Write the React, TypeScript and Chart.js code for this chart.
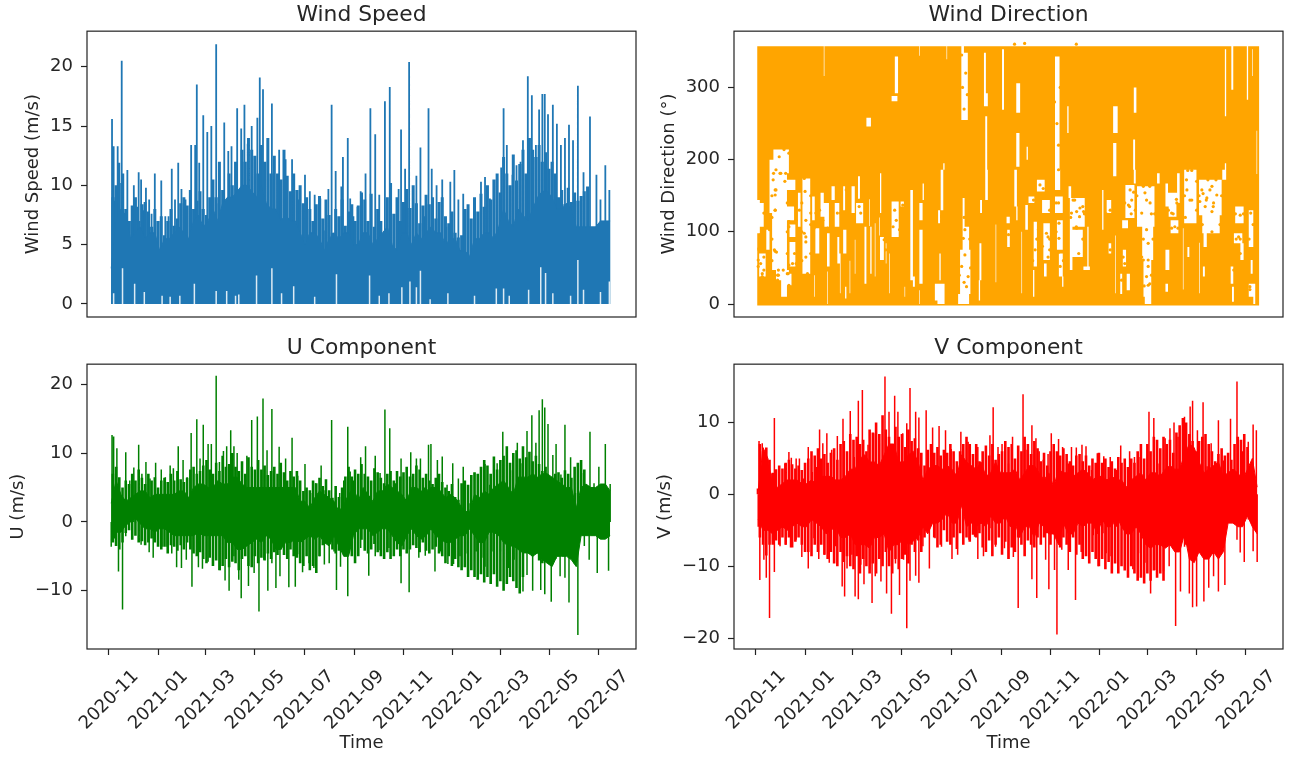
import React, { useEffect, useRef } from "react";
import { Chart, registerables } from "chart.js";

Chart.register(...registerables);

const FONT = "'DejaVu Sans', sans-serif";
const INK = "#262626";

const xTickDays = [0, 61, 120, 181, 242, 304, 365, 426, 485, 546, 607];
const xTickLabels = ["2020-11", "2021-01", "2021-03", "2021-05", "2021-07", "2021-09", "2021-11", "2022-01", "2022-03", "2022-05", "2022-07"];
const XMIN = -27;
const XMAX = 653;
const coreStart = 3;
const coreStep = 6;
const fringeStart = 5;
const fringeStep = 4;

// --- Wind speed
const speedCore = [3,7,8,7.5,5.5,6,6.5,5.5,6,6,4.5,5.5,5.5,6,6.5,6,5.5,7,7.5,6.5,7,8,7,8.5,9,9,9.5,10,10,9.5,9,10,8.5,8,8,7,7.5,7,7,6,5,6,6,5.5,4.5,5.5,6,5.5,6,6,5,5,6,6,5,5.5,6,6.5,5,4.5,6,6,5,6,5.5,6,6.5,6,6,5,5.5,5.5,4.5,4.5,4,5.5,5.5,6,6,5.5,6.5,8,7,6.5,8,7.5,7,8,9,9.5,9.5,9,8,8,8.5,8,6.5,6.5,6.5,6.5,6.5,7,7,7];
const speedFringe = [9,10,10.2,9,8,7,8.3,9,7,8.4,8.6,7.8,6.5,8,7,7.4,5.8,7,8,6.6,7.2,8.5,9,8.3,9.6,8,8.7,9.5,8,7.5,9,10.5,9,12,9.6,8,11,10,12,9.5,13,12,14,13,12.5,11,13.4,12,14,11,12.5,11,10.5,13,10.8,9.5,11,9.6,10,8.5,9,8,7,8.4,9.1,7.2,8.8,7.5,6,8,7.4,8.8,6.6,7.8,8.4,7,8.3,9.4,8.8,7,9.3,6.5,8,7,5.8,9,10.2,7.6,9,7,8.6,9.7,8.1,10,8.5,6.8,8.3,9.2,8.4,9,7.2,8.6,9,7.4,6.8,7.8,6,5.6,5.8,8,8.4,7.2,9,7.8,9.3,8.2,10,8.8,10.5,11,9.4,12.4,11,10,12.6,10.4,11.8,13,11,14,13,12.4,13.4,12,12.8,11.4,12,11,9,9.6,8.4,9.8,8.6,9.4,8.7,9.1,9.5,9.9];
const speedSpikeDays = [4,6,8,11,13,16,18,23,26,31,35,37,40,43,46,50,53,57,61,65,70,74,78,82,86,90,95,102,107,109,112,117,122,127,133,136,143,148,152,159,164,168,172,177,184,187,191,197,202,211,219,227,235,243,249,255,262,268,272,276,281,288,290,296,299,303,308,312,318,324,330,335,342,348,359,362,367,372,377,381,386,391,396,400,406,413,418,423,428,433,439,453,461,466,472,477,481,486,489,493,500,505,510,513,519,524,529,533,537,540,544,550,555,560,565,570,575,581,588,596,604,609,615,620];
const speedSpikeTops = [15.6,13.3,8.7,13.3,11.9,20.5,11,11.3,7,10,8.2,11.1,10.5,7.9,9.8,8.8,7.6,11,5.5,10.4,7.4,7.4,11.4,8.8,11.9,9.7,8.8,13.4,13.4,18.5,11.9,15.9,14.5,15,21.9,8.5,15.3,12.9,13.3,16.5,14.8,16.8,13.5,15,15.7,19.1,18.1,14,16.9,13,12.2,12.2,8.8,10.9,9.5,9.2,8.9,6.2,9.7,16.8,11.2,9.9,12.4,14,8.9,7.4,8.2,9.5,11,16.5,14.3,9.2,17.1,18.3,9.7,14.7,11.4,20.4,8.8,10.8,13.2,7.4,16.5,11.4,10,10.5,6.5,10.3,11.3,8.8,9.3,8.6,10.3,10.7,8.9,8.6,10.6,11.5,16.5,13.4,10.9,11.7,12,13.8,19.2,17.6,13.4,16.4,17.7,17.7,16,16.8,15.2,13.4,14,15.1,13.8,18.4,11.1,15.8,10.9,8.8,11.7,9.6];
const speedCalmDays = [6,17,32,44,66,76,88,106,133,146,157,161,183,202,214,229,255,282,323,335,347,363,373,381,386,398,420,453,480,489,496,520,535,541,550,572,581,588,609,620];
const speedCalmTops = [0.9,3,1.7,1,0.7,0.6,0.7,1.7,1.1,1.1,0.7,0.8,2.4,3,0.9,1.5,0.6,2.5,2.4,0.7,0.9,1.4,1.9,1.4,2.8,0.4,0.9,0.7,1.3,1.3,0.7,1.2,3.1,2.6,0.9,0.7,3.7,1.2,1,1.9];

// --- U component
const uCoreHigh = [2.7,6,4,3,3.5,4,4.5,4.5,3.5,4,4,4,4,4,4.5,4.5,3.5,5,5.5,5.5,5,5,6,5.5,5.5,6.5,6.5,5.5,5,5,5,5,5,5,5,5,5,5,5,3,3,2,3.5,4.5,4,3.5,3,1.5,2.5,4,5,3,5,4,3,4.5,4.5,5.5,5,4.5,4,3,5,5,4.5,4.5,5,5,4.5,3.5,4,3.5,2.5,1.5,1.5,4,3.5,4.5,4,5,5.5,6,5,4,6.5,6.5,6.5,7,6.5,7,7,6.5,6,5.5,5,5,2,5,5.5,5,5,5.5,5.5,4.5];
const uCoreLow = [-2.5,-1.5,-1.5,-0.5,0,0.5,-0.3,-1,-1,-1.5,-1,-1,-1.5,-2,-2,-2,-2,-2,-1.5,-2,-2,-2,-2,-2,-3,-3,-4,-4,-3.5,-3,-2.5,-3,-2,-2.5,-4,-4,-3,-3,-2.5,-3,-2.5,-2,-2.5,-2,-3,-3.5,-2,-3.5,-5,-5,-2,-1,-1,-1,-2,-1.5,-1,-1,-2,-3,-3.5,-2,-1,-2,-2.5,-2,-1,-2,-2.5,-3,-3,-2.5,-2,-2,-1,-2,-3,-3,-1.5,-1.5,-2,-3,-3.5,-3.5,-4,-4.5,-4.5,-5,-4.5,-5.5,-6,-6.5,-5,-5,-5,-5.5,-6.5,-2,-2,-2,-2,-2.5,-2.5,-2];
const uFringeUp = [7,8,6.5,5,6,5.5,7,6,7.6,6.4,5.5,7,6,6.5,5,6,6.4,5.8,7,6,7.4,6.2,5.8,6.4,7.6,8,7,7.4,8.2,9,7.6,7,8.6,7.4,9.6,8,8.4,10,8,7.4,8.8,7,9.4,8,7.6,9,7.6,8.2,6.8,7.4,8,7,8.6,7.2,6,7.4,6.6,7.4,6,4.5,5,4.6,6,5.6,6.4,5.2,6.2,4.6,3.5,5.2,3.6,5,6.6,8,6.6,7.6,7,8.4,7,6.6,6,7.8,7.2,6.4,5.6,7,7.4,6,7.4,6.6,7.2,8,6.6,7,8.2,7.6,6.4,7,6,5.5,6.4,7,5.8,5,4.5,5.5,3.6,3.2,5.6,6,5.4,6.8,7.2,7,8,9,8.2,7,9.5,7.6,9,9.6,11,8.6,10,10.4,9.2,11,9.4,10.2,8.8,9.6,8.4,7.4,8,6,4.2,7,7.2,6.4,7.5,7,6.4,8,8.6,9,7.6];
const uFringeDown = [-3,-3.5,-4,-3,-1.6,-1.2,-2.6,-2,-3,-2.8,-3.4,-3,-2.4,-3,-3.6,-4,-3.6,-4.6,-3.4,-3.6,-4.2,-3.4,-4,-3,-4,-4.6,-5,-4.4,-5.4,-6,-5.2,-6.4,-5.6,-7,-6.4,-5.4,-6.6,-5.8,-6,-7,-5.4,-5,-6.4,-6.6,-5,-6,-5.2,-5.6,-4.6,-5.4,-4.4,-4.8,-4,-4.8,-5.4,-4,-5,-5.2,-6,-6.4,-5,-7,-6.4,-7.4,-5,-3.4,-3,-3.2,-4,-4.6,-4.2,-3,-3.4,-4.4,-5,-6,-5,-2.6,-4.2,-4.6,-4,-3.2,-4.4,-5,-5.4,-4.4,-5.4,-5,-4,-5,-4,-4.6,-4,-3.4,-3.8,-4.4,-3,-4.2,-4.6,-4,-3.6,-4.6,-5,-6,-5,-6.4,-5.4,-6.6,-7,-6.6,-8,-7,-8,-8.4,-7.6,-8.8,-8,-9,-7.6,-9.4,-8.6,-10,-9,-8,-8.6,-9.6,-10.4,-8,-4,-4.4,-5,-4.6,-5.6,-6,-4.6,-5,-4,-5.4,-3.6,-4.2];
const uUpDays = [4,6,10,13,21,26,31,37,41,46,51,58,65,70,76,80,86,92,97,102,109,113,117,123,127,133,137,142,146,151,155,159,165,171,177,184,191,196,202,211,219,227,234,243,250,256,263,268,276,281,286,291,296,299,303,308,312,318,324,330,336,342,348,355,362,368,374,381,386,391,396,399,407,413,419,426,433,439,446,453,461,466,472,477,481,488,493,500,506,512,518,524,529,533,537,540,544,550,554,560,565,572,578,588,596,601,607,615,621];
const uUpTops = [12.6,12.4,10.7,4.6,10.1,6,7.9,11.2,7,8.7,6.3,8.6,7.6,6.5,8.2,7.8,11,9,6.5,12.9,14.9,9.2,14.1,11.3,11.3,21.2,8.7,10.3,11,13.3,11,10,7.5,9.6,14.8,15.3,17.9,10.4,16.4,10.9,9.2,12.2,6.7,8.4,4.2,5.6,8.2,4.6,14.8,4.2,4.2,6,13.8,7.3,6,3.2,9.4,11,2.5,9.6,7.1,16.3,13.6,5.6,9.2,3.2,10.1,9.2,9.2,5,11.2,11.3,9,9.5,5.4,8.5,6.3,8,2.7,7.1,5.4,8.4,5.4,7.5,8.5,13.1,10.4,7.5,11.5,8.5,13.2,15.5,11.5,16.2,17.8,16.6,14.2,9.7,11.3,6.9,14.1,9.4,4.2,7.1,13.1,5.6,8,11.3,5.5];
const uDownDays = [3,7,12,17,21,29,33,40,50,55,61,66,72,78,84,90,96,103,111,116,123,129,138,144,149,155,161,164,173,180,186,192,197,202,207,212,223,231,236,240,248,254,261,267,273,279,282,287,296,299,305,312,322,330,336,347,362,372,384,392,404,411,420,427,435,444,455,462,466,476,485,495,502,513,518,525,535,540,548,559,565,570,576,581,589,595,605,619];
const uDownTops = [-3.6,-2.4,-7.2,-12.7,-2.1,-1.4,-0.2,-3.3,-4.4,-5.2,-2.9,-3.6,-3.6,-4.6,-6.6,-6.7,-5.5,-9.4,-6.6,-6.8,-5.8,-5.3,-7,-8.5,-10,-5,-8.4,-11.1,-9.3,-7.4,-13,-5.5,-10,-6,-9.6,-7.9,-9.5,-9.4,-4.7,-7.3,-6,-6.7,-5,-6.2,-6,-4.3,-9.9,-6.5,-10.8,-3.3,-5.7,-3.8,-7.8,-5,-4.1,-3.8,-8.9,-10.2,-5.2,-4.9,-7.2,-4.3,-6.1,-6.1,-5,-4.6,-4.3,-5.2,-6.5,-4.3,-4.3,-6.7,-5.5,-10.1,-7.7,-10,-9.9,-10.5,-11.6,-7.9,-8.1,-11.7,-6,-16.4,-3.5,-5.5,-7.4,-7.1];

// --- V component
const vCoreHigh = [0.5,6.5,5,1,1,1.5,2,2,2,1.5,1.5,2,1.5,2.5,2.5,2.5,2,2,2.5,3.5,3.5,5,5.5,4.5,4.5,4,5.5,7,7,4.5,4.5,5.5,6,4.5,2,3.5,4,4,3.5,4,3.5,2.5,5.5,4.5,4,3.5,4.5,2.5,3,4.5,3,3,3,3.5,2,3,4,4,3,2,3,1,3.5,3,3,2.5,3,3.5,3,2,2.5,2.5,2,2.5,2,2,1,2,2.5,3,2,3,3,2.5,3.5,4,3.5,3.5,5.5,7,6.5,4.5,3,3.5,4,4.5,2.5,3,3.5,3,2,3.5,5,1];
const vCoreLow = [-3.5,-5,-5,-5.5,-5,-4.5,-5,-4.5,-4,-4.5,-4.5,-3.5,-4,-4.5,-5.5,-5,-4.5,-6,-6,-5.5,-7,-7,-7,-7.5,-6,-6,-5.5,-8,-7,-7,-6,-7,-6.5,-6,-4.5,-5.5,-4,-4,-3.5,-2.5,-4,-4,-1.5,-4.5,-4,-4.5,-4,-4.5,-3,-4,-4,-3,-4.5,-4,-6,-4.5,-4.5,-6,-4,-4.5,-5.5,-5.5,-7,-4,-5.5,-5.5,-4,-4.5,-4,-4,-5.5,-3.5,-4.5,-4.5,-3,-4.5,-5.5,-5.5,-4.5,-5.5,-7,-7.5,-7,-7,-7.5,-7,-8,-8,-5.5,-9,-9.5,-8,-9,-9,-8,-9,-8,-4,-4,-4.5,-4.5,-3,-4.5,-5.5];
const vFringeUp = [7,6,6.5,4.8,3,3.5,4,3.6,4.4,4.8,4.2,3.6,4,3.4,4.4,5,6,5.4,6.4,5,5.6,4.4,5.8,6.4,4.8,7,7.4,6,8.4,7.6,8,7,7.6,6,9,8.6,10,8.4,11,9,8,7,9.4,8,8.4,6.6,9,7.4,7.8,6.4,5.8,4,6.2,7,5.8,6.6,5.4,6.2,5.8,7,6,4.6,6,7,8,7,5.6,7,4.6,6,6.8,5.4,7,4.8,5.6,6,7.4,6.6,7,5,6.8,6,8,7,5.6,7.4,6.4,4.6,5.8,4,6,7,6,5.4,6.4,5.6,4.6,4,5.4,5.6,4.6,5.4,4,5,4.4,5.8,4.4,5,3.8,4.6,3.6,5.2,4.4,5,3.8,5,4.4,6,7,5,7,6,8,7.6,6.4,8,7,7.6,5.8,8.6,9.6,10.6,10,8.4,7.4,6,7.4,8,8.4,7,6,4.6,5.6,6.4,5.4,5.8,4.8,7,8,7.6,8.4,6.6];
const vFringeDown = [-6,-7,-8.5,-7,-7,-6.4,-7,-6,-7,-6,-7.4,-6.6,-6,-7,-8,-8,-8.6,-7,-8,-7,-8.4,-9,-8,-9.6,-10,-8,-9.4,-8.6,-10,-10.4,-8.6,-11,-9,-10,-11,-9.6,-11,-9,-10,-8,-10,-11,-9,-10.4,-9,-8.4,-9.6,-7,-8,-6.4,-8,-6,-5,-3,-6,-7.4,-7,-5,-6.6,-7,-6,-7.6,-5.4,-7,-6,-6.6,-5.6,-6,-5.4,-7.4,-8,-6.4,-8.6,-7,-6,-8.4,-6.6,-9,-7.4,-8,-6,-7,-8.6,-6.4,-7,-7.4,-6,-7,-6,-5.4,-7,-5,-6,-7.4,-6,-7,-8,-6,-8.4,-7,-9,-8.6,-9.6,-8,-9,-10,-9,-10.4,-9.4,-11,-9.6,-11,-10,-10.6,-11.6,-10,-11,-12,-11.6,-12.4,-11,-12,-10.6,-11.6,-11,-12,-6,-7,-5.6,-6.6,-7.6,-6,-7,-6,-8,-8.6];
const vUpDays = [2,4,8,13,19,23,29,36,41,44,50,54,59,65,70,75,79,83,88,94,101,108,113,117,122,127,132,139,146,153,160,165,172,176,182,187,191,198,202,211,219,227,235,242,248,254,263,269,275,283,290,294,300,305,313,318,325,331,336,342,347,351,356,362,366,371,375,380,387,391,397,404,409,416,423,431,439,447,452,457,463,469,476,481,487,493,498,507,513,518,523,531,538,541,547,554,559,564,573,579,588,596,603,610,616,620];
const vUpTops = [0.8,7.4,7.1,6.2,2.9,10.6,2.5,4.3,5.9,5.1,5,5,2.2,6.6,3.1,3.8,9,7.1,8.5,6.2,8.1,10.5,4.3,11.6,5.2,13,14.5,6.9,8.5,7.1,16.4,11.5,13.7,11.5,8.5,9.9,14.8,11.5,10.7,11.7,9.3,9.5,8.9,6.3,2.9,8.7,7.3,5.4,6.6,1.5,8.2,12.1,6.6,7,4.3,8,4.6,13.9,6.2,9.6,7.8,6,4.8,5.6,8.5,0.6,7.7,6.6,4.3,6.6,6.5,6.9,6.7,3.4,5.7,5.3,5.2,3.4,6.8,1,6,5.2,5.2,4.7,11.5,10.6,4.3,7.8,9.2,10,8,10.8,12.2,13,8.9,12.8,3.9,7.1,10.3,4.7,10.5,15.7,6,7.3,9.7,8.9];
const vDownDays = [3,5,10,13,17,23,30,37,43,50,57,65,72,78,85,91,99,107,110,113,119,123,127,130,134,141,144,148,155,162,168,173,178,183,187,191,198,202,207,215,222,230,236,243,250,256,264,271,275,277,282,290,297,308,313,319,325,333,342,348,353,359,363,370,373,379,387,396,403,409,418,424,430,434,440,447,457,461,467,474,482,489,496,505,512,520,526,531,537,541,546,555,561,567,573,581,589,596,600,605,610,616,621];
const vDownTops = [-4.5,-11.9,-9.1,-11.6,-17.2,-10.8,-7.2,-7,-7.4,-6.3,-8.7,-10.3,-6.1,-9,-8.4,-9.5,-7.2,-12.8,-14.2,-10.3,-8.4,-14.2,-14.6,-9.8,-12.5,-10.3,-15.1,-11.4,-12.1,-13.8,-16.6,-9.6,-14,-9.1,-18.6,-12,-11.3,-12.3,-7.2,-10.3,-6.1,-7.3,-2.6,-9,-8.4,-0.3,-6.3,-5.9,-9,-5,-8.6,-4.7,-7.3,-7.5,-9,-8.7,-15.8,-7.7,-11.8,-14.4,-5.2,-9.1,-13.2,-10.5,-19.5,-7.7,-10.5,-14.7,-8,-6.3,-5.7,-10,-5.4,-8.2,-8.6,-4.5,-8,-9.8,-10.4,-8.2,-9.5,-13.8,-10.5,-10.7,-10,-18.3,-13.5,-7.3,-13.8,-15.7,-15.6,-14.9,-13,-11.4,-13.5,-12.6,-3.5,-6.3,-8.1,-9.4,-3.5,-7.9,-9.4];

// --- Wind direction: [from day, to day, low °, high °] stretches the point cloud leaves empty
const dirGaps: [number, number, number, number][] = [
  [2,5,98,144],[4,12.4,38,70],[5,10.3,107,140],[12.4,17.4,75,103],[20,39,47,181],[25,41,33,47],[31,39,10,33],[39,47.6,116,135],[41,49,93,110],[41,49,52,86],[38,44.7,26,42],[39,49,158,172],[51.7,55.8,107,154],[57,68,42,174],[69.5,73.6,116,149],[73.6,78.6,70,105],[79.4,84.8,121,154],[84.8,91,107,140],[93,98.4,144,163],[87.7,91.8,52,98],[97,103.4,107,140],[100.5,103.4,56,93],[107.5,110.8,130,163],[107.5,112.5,70,103],[110,112.5,7.5,24],[117.9,123.2,126,163],[124,133,112,140],[126,129,144,177],[122,124,42,89],[134.4,137.3,28,107],[141.4,143.5,42,107],[146.8,148.9,38,112],[153.8,155.9,126,181],[153.8,159.2,61,93],[160.5,162.5,56,84],[167.5,177.8,93,142],[178.7,184,135,142],[191,195.2,33,158],[194.4,197.7,24,38],[184,185.3,10,24],[202.6,206.8,116,140],[202.6,206.8,28,103],[206,208.4,144,167],
  [229,232.8,130,186],[227,229.5,33,70],[221.6,227,5,28],[225.8,228.7,112,130],[256,265,75,107],[252.7,266.3,14,75],[250.6,265,0,14],[256,259.3,107,147],[283.7,287.8,144,186],[276.6,279.5,33,84],[277.5,280.8,126,144],[319.7,323.8,135,186],[311.4,314.7,79,103],[310.6,314.7,112,121],[322,325,116,135],[337.4,345.7,140,149],[333.3,337.4,103,137],[343.6,348.6,52,114],[342.8,345.7,10,47],[354,364.3,126,144],[356,364.3,61,112],[357,361,38,56],[370.5,377.5,158,186],[370.5,381,126,149],[372.6,381,75,116],[374.7,381,38,70],[378.8,381.7,24,38],[389,407.7,107,147],[387,391,147,163],[389,393,47,107],[393,405.7,65,103],[405.7,414,47,52],[410,412.7,52,107],[347.8,358,156,172],
  [428.4,431.3,103,158],[434.6,440.8,126,144],[436.7,440.8,70,84],[457.4,469.8,119,165],[453.2,461.5,105,116],[454.5,459.4,52,75],[451,454.5,14,42],[459.4,463.6,19,42],[467.7,471,167,186],[471.8,494.6,107,163],[478,492.5,61,107],[480,490.4,10,61],[481.3,490.4,0,10],[496.6,500.8,167,181],[507,511,135,167],[511,521.5,121,154],[513.2,523.5,98,116],[507,512.4,47,75],[507,511,17,28],[521.5,525.6,140,181],[530.5,546.3,112,186],[533.9,537.2,65,79],[548.3,577.3,123,172],[552.5,575.2,98,123],[554.5,558.7,79,98],[553.7,556.6,38,52],[577.3,582.7,172,186],[587.6,591.8,28,52],[589.7,592.6,3,24],[593.8,604.2,112,135],[591.8,603.3,84,98],[600,604.2,61,84],[610.4,616.6,79,130],[610.4,616.6,10,28],[612.4,615.8,42,61],
  [83.5,85,316,358],[107,108,209,237],[136.5,143,246,258],[167.5,176,281,288],[172,177,292,343],[202,203.5,344,358],[202,203.5,0,19],[231.5,234,186,195],[254,263,255,348],[254,258.5,334,358],[271,272,283,330],[236,237.5,339,358],[236,237,0,14],[282,285.5,292,348],[282,288,274,292],[284,287,186,260],[305,308,269,353],[322.6,327.5,265,306],[322.6,327,190,237],[335,337.5,200,218],[370,377,186,343],[385.5,388,237,274],[442.5,446.7,177,223],[442.5,448.7,237,274],[467.3,470.2,186,228],[468,472,265,300],[581,583,260,353],[581,583,172,195],[589,591.5,297,358],[608,610,283,358],[614,616,316,353],[21.5,41,181,214],[17,21.5,126,200],[184,185,0,28],[225,234,0,28],[615.4,618.7,0,28],[276,278,5,33],
  [72,73,10,40],[81,82.2,20,60],[88,89,0,45],[97,98,8,50],[104,105,15,70],[110,111,30,62],[116,117.2,15,60],[130,131,25,80],[140,141,108,145],[150,151,12,90],[153,154,95,120],[165,166,15,70],[171,172,20,85],[178,179,40,90],[188,189,12,60],[199,200,40,120],[210,211,30,110],[214,215,15,90],[219,220,60,140],[238,239,20,110],[243,244,60,120],[246,247,15,95],[250,251,110,200],[268,269,20,80],[271,272,90,200],[290,291,20,130],[297,298,30,110],[302,303,60,160],[307,308,20,90],[316,317,110,180],[329,330,15,100],[331,332,160,240],[351,352,175,230],[368,369,15,90],[384,385,60,150],[395,396,150,210],[416,417,20,100],[420,421,60,140],[424,425,110,190],[432,433,165,250],[445,446,15,95],[450,451,120,175],[472,473,170,240],[475,476,10,60],[500,501,30,110],[503,504,115,160],[526,527,40,120],[529,530,20,105],[546,547,40,110],[549,550,15,85],[562,563,20,75],[568,569,50,95],[578,579,60,120],[584,585,20,100],[586,587,130,200],[596,597,145,190],[606,607,30,110],[618,619,60,150],[620,621,180,240],
];
const dirDotDays = [4,6,8,10,13,6,10,24,25,21.5,25,29,35,41,50,56,36,41,42,40.5,31,45.5,50,52,45.5,48,54,52.5,60,63,62,23,25.6,28,34,40,41,74.4,83,87,101,93,128,130,347.4,351.5,360,364,395,401,397,405,434,463,484,490,480,486,488,517,533.5,537.7,558,566.6,554,562.5,320.5,333,397,24,24,24,41,41,42,43,43,52,61,62,62,62,50,41,39,27,27,34,24,6,4,3,3,10,8,17,68,72,79,83,89,93,103,105,112,116,124,132,128,172,170,163,159,161,174,182,178,259,257,259,263,261,255,348,350,346,362,362,375,375,375.5,375.5,375.5,377,393,397.4,391,401.5,406,397.4,401.5,352,356,344,313,317,463.6,465.6,461.5,482,482,488.4,478,484,486,478,486,484,486,455,457,453,515,519,521.5,534,540,552.5,558.7,565,567,571,556.6,565,550,600,598,600,592,612,613,439,439,430.5,256,260,258,262,255,20,20,20,20,39,39,39,22,30,37,28,34,57,57,57,68,68,68,60,64,470,472,480,488,494,492,480,490,481,532,535,540,546,546,531,549,560,570,577,575,553,565,372,372,381,381,375,375,370,377,373,355,364,364,258,258,252,266,265,343,348,390,407,400,405,457,468,465,611,616,612,594,604,600,595,511,521,515,523];
const dirDotDeg = [77,56,42,126,107,28,65,130,158,172,186,204,214,209,209,200,170,114,89,107,181,140,116,98,56,70,130,65,98,177,116,75,72,40,5,42,26,126,102,102,126,130,144,126,135,112,98,75,144,121,107,135,125,135,144,125,61,52,28,125,172,144,144,135,153,158,360,361,360,158,151,130,114,107,89,154,140,158,156,93,86,65,56,54,42,40,33,7,73,96,75,61,52,47,38,103,126,105,130,116,105,126,149,126,158,140,107,172,135,130,107,103,89,75,116,137,103,68,91,103,38,24,52,126,103,75,93,65,154,140,112,91,72,52,144,128,126,133,128,105,61,165,160,144,96,107,158,144,137,172,154,140,126,103,84,65,61,38,26,65,56,33,126,107,140,158,144,158,147,163,140,151,135,128,142,123,93,70,47,24,126,75,130,93,300,320,270,290,345,60,90,120,150,70,100,140,181,181,181,47,47,60,100,140,70,110,150,174,42,130,150,163,163,125,90,90,40,25,120,185,185,130,170,150,150,172,172,150,110,110,100,100,140,60,120,186,220,280,300,250,80,90,130,120,30,40,50,90,60,90,120,125,70,90,140,155,125,90,110,20,125,125,90,90,130,145,105,105];

type Pt = { x: number; y: number | null };

const envelope = (vals: number[]): Pt[] => vals.map((y, i) => ({ x: coreStart + coreStep * i, y }));

const spikes = (days: number[], tops: number[], base = 0): Pt[] =>
  days.flatMap((d, i) => [{ x: d, y: base }, { x: d, y: tops[i] }, { x: d, y: null }]);

const fringe = (tops: number[]): Pt[] =>
  tops.flatMap((y, i) => {
    const d = fringeStart + fringeStep * i;
    return [{ x: d, y: 0 }, { x: d, y }, { x: d, y: null }];
  });

// Vertical strokes for the dense cloud: each column runs from bottom to top, skipping the read gaps.
const dirColumns = (): Pt[] => {
  const out: Pt[] = [];
  for (let d = 2.6; d <= 623; d += 0.8) {
    const open = dirGaps.filter((g) => d >= g[0] && d <= g[1]).map((g) => [g[2], g[3]]);
    open.sort((a, b) => a[0] - b[0]);
    let cur = -2;
    for (const [lo, hi] of open) {
      if (lo > cur) out.push({ x: d, y: cur }, { x: d, y: lo }, { x: d, y: null });
      cur = Math.max(cur, hi);
    }
    if (cur < 357) out.push({ x: d, y: cur }, { x: d, y: 357 }, { x: d, y: null });
  }
  return out;
};

type Cfg = {
  title: string; yLabel: string; yMin: number; yMax: number; yTicks: number[]; yTitlePad: number;
  left: number; top: number; width: number; height: number; plotLeft: number; padRight: number;
  bottomHeight: number; showX: boolean; datasets: any[];
};

const line = (data: Pt[], color: string, width: number, extra: any = {}) => ({
  data, borderColor: color, borderWidth: width, pointRadius: 0, tension: 0, spanGaps: false,
  borderCapStyle: "butt", fill: false, ...extra,
});

const BLUE = "#1f77b4";
const GREEN = "#008000";
const RED = "#ff0000";
const ORANGE = "#ffa500";

const LEFT_X = 0;
const RIGHT_X = 648;
const ROW1 = 0;
const ROW2 = 333;

const plots: Cfg[] = [
  {
    title: "Wind Speed", yLabel: "Wind Speed (m/s)", yMin: -1.1, yMax: 23, yTicks: [0, 5, 10, 15, 20], yTitlePad: 23,
    left: LEFT_X, top: ROW1, width: 648, height: 330, plotLeft: 87, padRight: 12, bottomHeight: 13, showX: false,
    datasets: [
      line(envelope(speedCore), BLUE, 1, { fill: { value: 0 }, backgroundColor: BLUE }),
      line(fringe(speedFringe), BLUE, 3),
      line(spikes(speedSpikeDays, speedSpikeTops), BLUE, 1.8),
      line(spikes(speedCalmDays, speedCalmTops, -0.05), "rgba(255,255,255,0.85)", 1.5, { order: -1 }),
    ],
  },
  {
    title: "Wind Direction", yLabel: "Wind Direction (°)", yMin: -18, yMax: 378, yTicks: [0, 100, 200, 300], yTitlePad: 11,
    left: RIGHT_X, top: ROW1, width: 648, height: 330, plotLeft: 86, padRight: 13, bottomHeight: 13, showX: false,
    datasets: [
      line(dirColumns(), ORANGE, 1.3),
      { data: dirDotDays.map((x, i) => ({ x, y: dirDotDeg[i] })), showLine: false, pointRadius: 1.6, pointBorderWidth: 0, pointBackgroundColor: ORANGE },
    ],
  },
  {
    title: "U Component", yLabel: "U (m/s)", yMin: -18.45, yMax: 22.9, yTicks: [-10, 0, 10, 20], yTitlePad: 8,
    left: LEFT_X, top: ROW2, width: 648, height: 426, plotLeft: 87, padRight: 12, bottomHeight: 110, showX: true,
    datasets: [
      line(envelope(uCoreHigh), GREEN, 1, { fill: "+1", backgroundColor: GREEN }),
      line(envelope(uCoreLow), GREEN, 1),
      line(fringe(uFringeUp), GREEN, 2.6),
      line(fringe(uFringeDown), GREEN, 2.6),
      line(spikes(uUpDays, uUpTops), GREEN, 1.5),
      line(spikes(uDownDays, uDownTops), GREEN, 1.5),
    ],
  },
  {
    title: "V Component", yLabel: "V (m/s)", yMin: -21.5, yMax: 18.1, yTicks: [-20, -10, 0, 10], yTitlePad: 6.5,
    left: RIGHT_X, top: ROW2, width: 648, height: 426, plotLeft: 86, padRight: 13, bottomHeight: 110, showX: true,
    datasets: [
      line(envelope(vCoreHigh), RED, 1, { fill: "+1", backgroundColor: RED }),
      line(envelope(vCoreLow), RED, 1),
      line(fringe(vFringeUp), RED, 2.6),
      line(fringe(vFringeDown), RED, 2.6),
      line(spikes(vUpDays, vUpTops), RED, 1.5),
      line(spikes(vDownDays, vDownTops), RED, 1.5),
    ],
  },
];

const frame = {
  id: "frame",
  afterDatasetsDraw(chart: any) {
    const { ctx, chartArea: a } = chart;
    ctx.save();
    ctx.strokeStyle = "#222222";
    ctx.lineWidth = 1.2;
    ctx.strokeRect(a.left, a.top, a.right - a.left, a.bottom - a.top);
    ctx.restore();
  },
};

function SubPlot({ cfg }: { cfg: Cfg }) {
  const ref = useRef<HTMLCanvasElement>(null);
  useEffect(() => {
    const chart = new Chart(ref.current as HTMLCanvasElement, {
      type: "line",
      data: { datasets: cfg.datasets },
      plugins: [frame],
      options: {
        animation: false,
        responsive: false,
        devicePixelRatio: 1,
        layout: { padding: { left: 0, right: cfg.padRight, top: 0, bottom: 0 } },
        plugins: {
          legend: { display: false },
          tooltip: { enabled: false },
          title: {
            display: true, text: cfg.title, color: INK, fullSize: false,
            font: { family: FONT, size: 21.8, weight: "normal", lineHeight: 1.2 },
            padding: { top: 2, bottom: 3 },
          },
        },
        scales: {
          x: {
            type: "linear", min: XMIN, max: XMAX,
            afterBuildTicks: (s: any) => { s.ticks = xTickDays.map((value) => ({ value })); },
            afterFit: (s: any) => { s.height = cfg.bottomHeight; s.paddingLeft = 0; s.paddingRight = 0; },
            border: { display: false },
            grid: { display: cfg.showX, drawOnChartArea: false, drawTicks: cfg.showX, tickLength: 6, tickColor: "#222222", tickWidth: 1.2 },
            ticks: {
              display: cfg.showX, autoSkip: false, minRotation: 45, maxRotation: 45, labelOffset: 27, padding: 11,
              color: INK, font: { family: FONT, size: 18 },
              callback: (v: any) => xTickLabels[xTickDays.indexOf(v)] ?? "",
            },
            title: {
              display: cfg.showX, text: "Time", color: INK,
              font: { family: FONT, size: 18, lineHeight: 1.2 }, padding: { top: 0, bottom: 5 },
            },
          },
          y: {
            type: "linear", min: cfg.yMin, max: cfg.yMax,
            afterBuildTicks: (s: any) => { s.ticks = cfg.yTicks.map((value) => ({ value })); },
            afterFit: (s: any) => { s.width = cfg.plotLeft; s.paddingTop = 0; s.paddingBottom = 0; },
            border: { display: false },
            grid: { display: true, drawOnChartArea: false, drawTicks: true, tickLength: 6, tickColor: "#222222", tickWidth: 1.2 },
            ticks: {
              padding: 8, color: INK, font: { family: FONT, size: 18 },
              callback: (v: any) => String(v).replace("-", "\u2212"),
            },
            title: {
              display: true, text: cfg.yLabel, color: INK,
              font: { family: FONT, size: 18, lineHeight: 1.2 }, padding: { top: cfg.yTitlePad, bottom: 0 },
            },
          },
        },
      } as any,
    });
    return () => chart.destroy();
  }, [cfg]);
  return (
    <canvas
      ref={ref}
      width={cfg.width}
      height={cfg.height}
      style={{ position: "absolute", left: cfg.left, top: cfg.top, width: cfg.width, height: cfg.height, display: "block", filter: "blur(0.4px)" }}
    />
  );
}

export default function App() {
  return (
    <div style={{ position: "absolute", left: 0, top: 0, width: 1296, height: 759, overflow: "hidden", background: "#fff" }}>
      {plots.map((cfg) => (
        <SubPlot key={cfg.title} cfg={cfg} />
      ))}
    </div>
  );
}
